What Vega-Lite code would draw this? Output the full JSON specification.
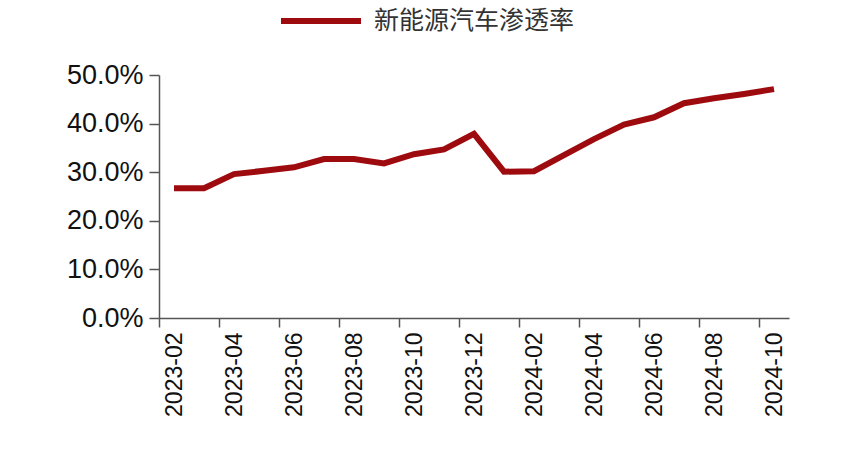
{
  "$schema": "https://vega.github.io/schema/vega-lite/v6.json",
  "width": 630,
  "height": 243,
  "autosize": {"type": "none"},
  "padding": {"left": 159, "top": 75, "right": 57, "bottom": 142},
  "background": "white",
  "config": {"view": {"stroke": null}, "font": "Liberation Sans"},
  "data": {
    "values": [
      {"month": "2023-02", "rate": 0.267, "series": "新能源汽车渗透率"},
      {"month": "2023-03", "rate": 0.267, "series": "新能源汽车渗透率"},
      {"month": "2023-04", "rate": 0.296, "series": "新能源汽车渗透率"},
      {"month": "2023-05", "rate": 0.303, "series": "新能源汽车渗透率"},
      {"month": "2023-06", "rate": 0.310, "series": "新能源汽车渗透率"},
      {"month": "2023-07", "rate": 0.327, "series": "新能源汽车渗透率"},
      {"month": "2023-08", "rate": 0.327, "series": "新能源汽车渗透率"},
      {"month": "2023-09", "rate": 0.318, "series": "新能源汽车渗透率"},
      {"month": "2023-10", "rate": 0.337, "series": "新能源汽车渗透率"},
      {"month": "2023-11", "rate": 0.347, "series": "新能源汽车渗透率"},
      {"month": "2023-12", "rate": 0.379, "series": "新能源汽车渗透率"},
      {"month": "2024-01", "rate": 0.301, "series": "新能源汽车渗透率"},
      {"month": "2024-02", "rate": 0.302, "series": "新能源汽车渗透率"},
      {"month": "2024-03", "rate": 0.335, "series": "新能源汽车渗透率"},
      {"month": "2024-04", "rate": 0.368, "series": "新能源汽车渗透率"},
      {"month": "2024-05", "rate": 0.398, "series": "新能源汽车渗透率"},
      {"month": "2024-06", "rate": 0.413, "series": "新能源汽车渗透率"},
      {"month": "2024-07", "rate": 0.442, "series": "新能源汽车渗透率"},
      {"month": "2024-08", "rate": 0.452, "series": "新能源汽车渗透率"},
      {"month": "2024-09", "rate": 0.461, "series": "新能源汽车渗透率"},
      {"month": "2024-10", "rate": 0.471, "series": "新能源汽车渗透率"}
    ]
  },
  "mark": {"type": "line", "strokeWidth": 6, "strokeJoin": "miter", "strokeCap": "butt"},
  "encoding": {
    "x": {
      "field": "month",
      "type": "ordinal",
      "bandPosition": 0.5,
      "scale": {"type": "band", "paddingInner": 0, "paddingOuter": 0},
      "axis": {
        "title": null,
        "values": ["2023-02", "2023-04", "2023-06", "2023-08", "2023-10", "2023-12", "2024-02", "2024-04", "2024-06", "2024-08", "2024-10"],
        "tickOffset": -15,
        "labelOffset": 15,
        "labelAngle": -90,
        "labelFontSize": 23,
        "labelColor": "#111111",
        "labelPadding": 5,
        "tickSize": 9,
        "tickColor": "#555555",
        "tickWidth": 1.5,
        "domainColor": "#555555",
        "domainWidth": 1.5,
        "grid": false
      }
    },
    "y": {
      "field": "rate",
      "type": "quantitative",
      "scale": {"domain": [0, 0.5], "nice": false},
      "axis": {
        "title": null,
        "values": [0, 0.1, 0.2, 0.3, 0.4, 0.5],
        "format": ".1%",
        "labelFontSize": 27,
        "labelColor": "#111111",
        "labelPadding": 6,
        "tickSize": 10,
        "tickColor": "#555555",
        "tickWidth": 1.5,
        "domainColor": "#555555",
        "domainWidth": 1.5,
        "grid": false
      }
    },
    "color": {
      "field": "series",
      "type": "nominal",
      "scale": {"range": ["#9E0B0F"]},
      "legend": {
        "title": null,
        "orient": "none",
        "legendX": 119,
        "legendY": -97,
        "symbolType": "stroke",
        "symbolSize": 6400,
        "symbolStrokeWidth": 6,
        "labelFontSize": 25,
        "labelLimit": 0,
        "labelFont": "Noto Sans CJK SC",
        "labelColor": "#333333",
        "labelOffset": 10
      }
    }
  }
}
